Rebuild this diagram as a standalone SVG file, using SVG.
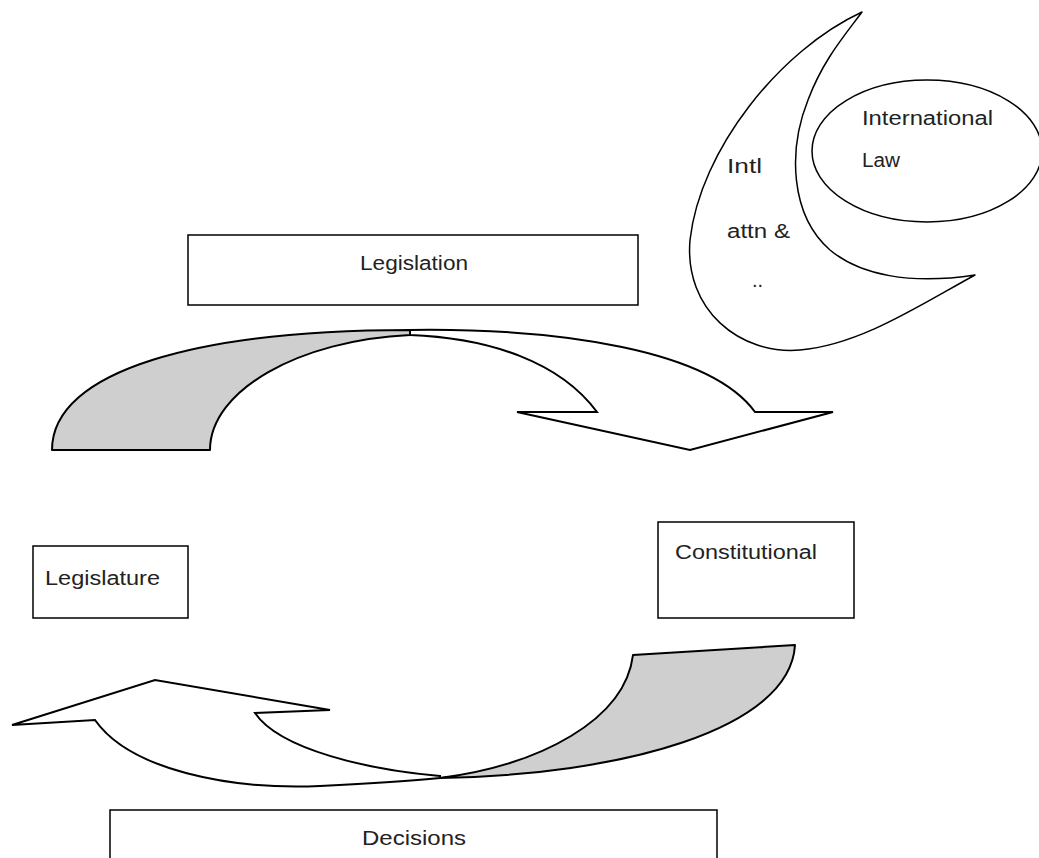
<svg xmlns="http://www.w3.org/2000/svg" width="1039" height="858" viewBox="0 0 1039 858">
<style>
.box{fill:#fff;stroke:#000;stroke-width:1.5}
.sh{fill:#fff;stroke:#000;stroke-width:1.5;stroke-linejoin:round}
.gray{fill:#cfcfcf;stroke:#000;stroke-width:2;stroke-linejoin:round}
.wa{fill:#fff;stroke:#000;stroke-width:2;stroke-linejoin:miter}
text{font-family:"Liberation Sans",Arial,sans-serif;font-size:20px;fill:#222}
</style>
<rect width="1039" height="858" fill="#fff"/>
<g id="intl-attn">
<path class="sh" d="M862,12 C780,50 700,150 690,240 C684,310 740,355 800,350 C860,345 920,305 975,275 C910,285 860,275 830,250 C790,215 788,150 808,100 C823,60 845,35 862,12 Z"/>
<text x="727" y="173" textLength="35" lengthAdjust="spacingAndGlyphs">Intl</text>
<text x="727" y="238" textLength="63" lengthAdjust="spacingAndGlyphs">attn &amp;</text>
<text x="752" y="287">..</text>
</g>
<g id="international-law">
<ellipse class="sh" cx="927" cy="151" rx="115" ry="71"/>
<text x="862" y="125" textLength="131" lengthAdjust="spacingAndGlyphs">International</text>
<text x="862" y="167" textLength="38" lengthAdjust="spacingAndGlyphs">Law</text>
</g>
<g id="legislation">
<rect class="box" x="188" y="235" width="450" height="70"/>
<text x="360" y="270" textLength="108" lengthAdjust="spacingAndGlyphs">Legislation</text>
</g>
<g id="legislature">
<rect class="box" x="33" y="546" width="155" height="72"/>
<text x="45" y="585" textLength="115" lengthAdjust="spacingAndGlyphs">Legislature</text>
</g>
<g id="constitutional">
<rect class="box" x="658" y="522" width="196" height="96"/>
<text x="675" y="559" textLength="142" lengthAdjust="spacingAndGlyphs">Constitutional</text>
</g>
<g id="decisions">
<rect class="box" x="110" y="810" width="607" height="60"/>
<text x="362" y="845" textLength="104" lengthAdjust="spacingAndGlyphs">Decisions</text>
</g>
<g id="connectors">
<path class="wa" d="M410,330 C560,328 710,350 755,412 L833,412 L690,450 L517,412 L597,412 C560,362 490,338 410,335 Z"/>
<path class="gray" d="M52,450 C52,370 200,330 410,330 L410,335 C300,340 210,390 210,450 Z"/>
<path class="wa" d="M440,776 C370,770 280,750 255,713 L330,710 L155,680 L12,725 L95,720 C130,770 230,790 320,786 C380,783 420,780 440,778 Z"/>
<path class="gray" d="M633,655 L795,645 C790,730 620,775 440,778 C540,765 625,720 633,655 Z"/>
</g>
</svg>
